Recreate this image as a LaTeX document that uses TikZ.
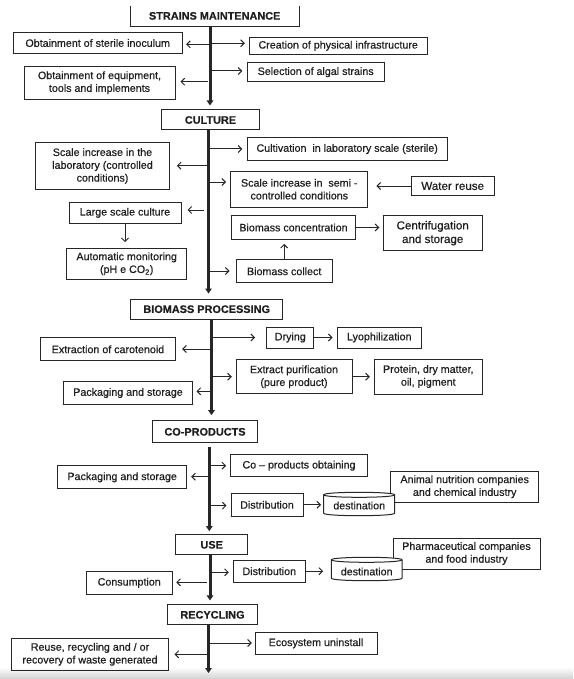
\documentclass[tikz,border=0pt]{standalone}
\usepackage{fontspec}
\setmainfont{Liberation Sans}[RawFeature={embolden=0.6}]
\usetikzlibrary{arrows.meta}
\newcommand\dgfont{\fontsize{10.7}{12.8}\selectfont}
\newcommand\dgbig{\fontsize{11.6}{13.6}\selectfont}
\newcommand\dbcyl[4]{%
  \draw[boxline, fill=white] (#1,#3+2.5) -- (#1,#4-2.5) .. controls (#1,#4+0.83) and (#2,#4+0.83) .. (#2,#4-2.5) -- (#2,#3+2.5) .. controls (#2,#3-0.83) and (#1,#3-0.83) .. cycle;
  \draw[boxline] (#1,#3+2.5) .. controls (#1,#3+5.83) and (#2,#3+5.83) .. (#2,#3+2.5);}
\begin{document}
\begin{tikzpicture}[x=1pt,y=-1pt,
  boxline/.style={line width=1pt, draw=black!85},
  box/.style={draw=black!85, line width=1pt, inner sep=1pt, align=center, font=\dgfont, text=black!88},
  bigtext/.style={font=\dgbig},
  head/.style={box, font=\fontsize{10.9}{13}\selectfont\bfseries},
  cyltext/.style={inner sep=0pt, font=\dgfont, text=black!88},
  arr/.style={-{Straight Barb[length=3.5pt,width=7pt]}, line width=1pt, draw=black!85, shorten >=#1},
  arr/.default=4pt,
  spine/.style={line width=3pt, draw=black!85, -{Triangle[length=5pt,width=6.5pt]}, shorten >=#1},
  spine/.default=4pt]
\useasboundingbox (0,0) rectangle (573,679);
\shade[top color=white, bottom color=black!18] (0,667) rectangle (573,679);

% ---------- STRAINS MAINTENANCE ----------
\node[head, draw=none, minimum width=168pt, minimum height=19.7pt] (strains) at (214.7,15.9) {STRAINS MAINTENANCE};
\draw[boxline] (strains.north west) -- (strains.south west) -- (strains.south east) -- (strains.north east);
\node[box, minimum width=168.7pt, minimum height=20.6pt] (inoc) at (97.7,43) {Obtainment of sterile inoculum};
\node[box, minimum width=177.7pt, minimum height=17pt] (infra) at (338.2,45.8) {Creation of physical infrastructure};
\node[box, minimum width=136.7pt, minimum height=19pt] (algal) at (315.7,72.2) {Selection of algal strains};
\node[box, minimum width=151pt, minimum height=33.3pt] (equip) at (99.5,82.7) {Obtainment of equipment,\\tools and implements};

% ---------- CULTURE ----------
\node[head, minimum width=97.6pt, minimum height=20pt] (culture) at (210.5,120) {CULTURE};
\node[box, minimum width=199.7pt, minimum height=23.4pt] (cultiv) at (347.2,149) {Cultivation\ \ in laboratory scale (sterile)};
\node[box, minimum width=133.6pt, minimum height=46.6pt] (lab) at (102.5,166) {Scale increase in the\\laboratory (controlled\\conditions)};
\node[box, minimum width=137.3pt, minimum height=36.3pt] (semi) at (299.3,189.2) {Scale increase in\ \ semi -\\controlled conditions};
\node[box, bigtext, minimum width=82.7pt, minimum height=19pt] (water) at (452.7,186) {Water reuse};
\node[box, minimum width=112pt, minimum height=21pt] (large) at (125,212.8) {Large scale culture};
\node[box, minimum width=120pt, minimum height=31pt] (auto) at (126.7,263.8) {Automatic monitoring\\(pH e CO\textsubscript{2})};
\node[box, minimum width=123.6pt, minimum height=23.6pt] (conc) at (293.5,227.5) {Biomass concentration};
\node[box, bigtext, minimum width=99.3pt, minimum height=35pt] (centri) at (432.7,233.2) {Centrifugation\\and storage};
\node[box, minimum width=96.3pt, minimum height=22.7pt] (collect) at (284.2,271.3) {Biomass collect};

% ---------- BIOMASS PROCESSING ----------
\node[head, minimum width=152pt, minimum height=20.3pt] (bioproc) at (206.7,309.2) {BIOMASS PROCESSING};
\node[box, minimum width=47.3pt, minimum height=21pt] (drying) at (290.3,337.5) {Drying};
\node[box, minimum width=84pt, minimum height=21pt] (lyo) at (379.3,337.5) {Lyophilization};
\node[box, minimum width=134.6pt, minimum height=22.7pt] (carot) at (108,349.3) {Extraction of carotenoid};
\node[box, minimum width=116pt, minimum height=34.3pt] (purif) at (294,376.8) {Extract purification\\(pure product)};
\node[box, minimum width=108pt, minimum height=35pt] (protein) at (428.3,376.5) {Protein, dry matter,\\oil, pigment};
\node[box, minimum width=129.4pt, minimum height=22.6pt] (pack1) at (128,393) {Packaging and storage};

% ---------- CO-PRODUCTS ----------
\node[head, minimum width=104.6pt, minimum height=22.3pt] (coprod) at (205,431.8) {CO-PRODUCTS};
\node[box, minimum width=136.6pt, minimum height=22pt] (coobt) at (299,465.7) {Co – products obtaining};
\node[box, minimum width=129pt, minimum height=23.3pt] (pack2) at (122.2,477.3) {Packaging and storage};
\node[box, minimum width=72pt, minimum height=23pt] (dist1) at (267,504.8) {Distribution};
\node[box, minimum width=148pt, minimum height=31.3pt] (animal) at (464.7,486.7) {Animal nutrition companies\\and chemical industry};
\dbcyl{323.7}{394.7}{492.3}{515.7}
\node[cyltext, minimum width=71pt, minimum height=18pt] (dest1) at (359.2,505.5) {destination};

% ---------- USE ----------
\node[head, minimum width=72pt, minimum height=20.3pt] (use) at (211.7,544.8) {USE};
\node[box, minimum width=72pt, minimum height=22.3pt] (dist2) at (269.3,571.2) {Distribution};
\node[box, minimum width=147pt, minimum height=31pt] (pharma) at (466.5,553.5) {Pharmaceutical companies\\and food industry};
\dbcyl{331.3}{402}{557.3}{580.7}
\node[cyltext, minimum width=70.7pt, minimum height=18pt] (dest2) at (366.7,571.5) {destination};
\node[box, minimum width=86.3pt, minimum height=23pt] (consum) at (129.2,582.8) {Consumption};

% ---------- RECYCLING ----------
\node[head, minimum width=89.6pt, minimum height=19.7pt] (recyc) at (212.5,614.8) {RECYCLING};
\node[box, minimum width=122pt, minimum height=22pt] (eco) at (316,643.3) {Ecosystem uninstall};
\node[box, minimum width=156.6pt, minimum height=32pt] (reuse) at (90,654.3) {Reuse, recycling and / or\\recovery of waste generated};

% ---------- spine ----------
\coordinate (s1) at (210,25.7);
\coordinate (s2) at (208.5,130);
\coordinate (s3) at (211.5,319.3);
\coordinate (s4) at (209.3,447.3);
\coordinate (s5) at (210,555);
\coordinate (s6) at (208.5,624.7);
\coordinate (s6e) at (208.5,673);
\draw[spine] (s1) -- (s1 |- culture.north);
\draw[spine=5pt] (s2) -- (s2 |- bioproc.north);
\draw[spine=5pt] (s3) -- (s3 |- coprod.north);
\draw[spine=3pt] (s4) -- (s4 |- use.north);
\draw[spine] (s5) -- (s5 |- recyc.north);
\draw[spine=0pt] (s6) -- (s6e);

% ---------- branches: strains ----------
\coordinate (b1) at (210,44.3);
\coordinate (b2) at (210,43.3);
\coordinate (b3) at (210,71);
\coordinate (b4) at (208,81.7);
\draw[arr=3.5pt] (b1) -- (b1 -| inoc.east);
\draw[arr] (b2) -- (b2 -| infra.west);
\draw[arr=4.5pt] (b3) -- (b3 -| algal.west);
\draw[arr=5pt] (b4) -- (b4 -| equip.east);

% ---------- branches: culture ----------
\coordinate (c1) at (208.5,149);
\coordinate (c2) at (208.5,165.7);
\coordinate (c3) at (208.5,182);
\coordinate (c4) at (204,210);
\coordinate (c5) at (208.5,271);
\draw[arr=4.5pt] (c1) -- (c1 -| cultiv.west);
\draw[arr=7pt] (c2) -- (c2 -| lab.east);
\draw[arr] (c3) -- (c3 -| semi.west);
\draw[arr=6pt] (c4) -- (c4 -| large.east);
\draw[arr=6pt] (c5) -- (c5 -| collect.west);
\draw[arr=8pt] (water.west) -- (water.west -| semi.east);
\draw[arr=5.6pt] (large.south) -- (large.south |- auto.north);
\draw[arr=4pt] (collect.north) -- (collect.north |- conc.south);
\draw[arr=3.3pt] (conc.east) -- (conc.east -| centri.west);

% ---------- branches: biomass processing ----------
\coordinate (d1) at (211.5,337.5);
\coordinate (d2) at (211.5,349);
\coordinate (d3) at (211.5,376.7);
\coordinate (d4) at (211.5,391.3);
\draw[arr=11pt] (d1) -- (d1 -| drying.west);
\draw[arr=4.3pt] (drying.east) -- (lyo.west);
\draw[arr=6.4pt] (d2) -- (d2 -| carot.east);
\draw[arr=3.7pt] (d3) -- (d3 -| purif.west);
\draw[arr=4pt] (d3 -| purif.east) -- (d3 -| protein.west);
\draw[arr=3.3pt] (d4) -- (d4 -| pack1.east);

% ---------- branches: co-products ----------
\coordinate (e1) at (209.3,465.7);
\coordinate (e2) at (209.3,476.7);
\coordinate (e3) at (209.3,505.7);
\draw[arr] (e1) -- (e1 -| coobt.west);
\draw[arr] (e2) -- (e2 -| pack2.east);
\draw[arr] (e3) -- (e3 -| dist1.west);
\draw[arr=2.4pt] (dist1.east) -- (dist1.east -| dest1.west);

% ---------- branches: use ----------
\coordinate (f1) at (210,572.3);
\coordinate (f2) at (207,582.3);
\draw[arr] (f1) -- (f1 -| dist2.west);
\draw[arr=8pt] (dist2.east) -- (dist2.east -| dest2.west);
\draw[arr=3.4pt] (f2) -- (f2 -| consum.east);

% ---------- branches: recycling ----------
\coordinate (g1) at (208.5,643);
\coordinate (g2) at (208.5,654.3);
\draw[arr=2.7pt] (g1) -- (g1 -| eco.west);
\draw[arr=5.7pt] (g2) -- (g2 -| reuse.east);
\end{tikzpicture}
\end{document}
